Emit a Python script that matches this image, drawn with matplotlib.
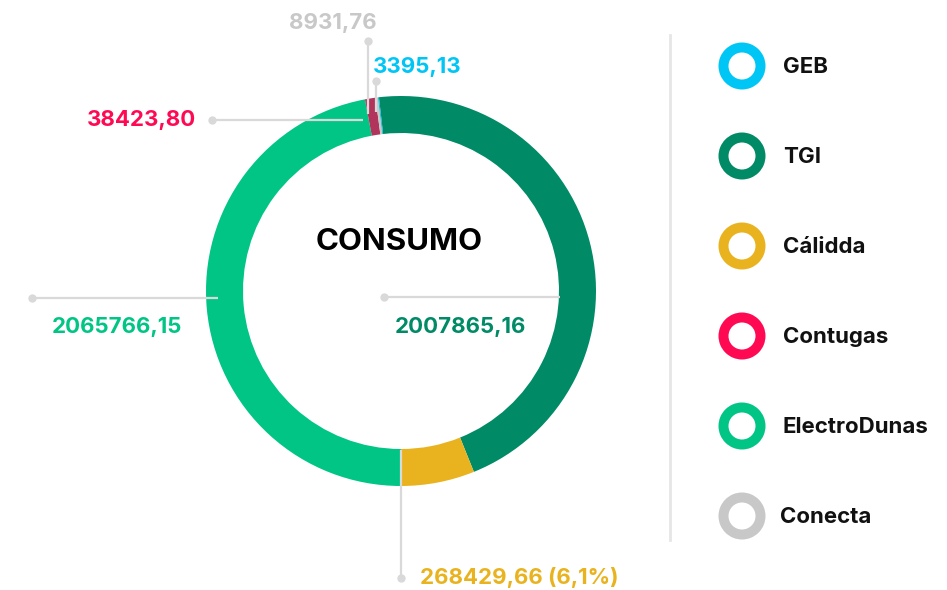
import matplotlib.pyplot as plt
from matplotlib.patches import Wedge

# donut data (clockwise order from the top)
names = ["TGI", "Cálidda", "ElectroDunas", "Contugas", "Conecta", "GEB"]
values = [2007865.16, 268429.66, 2065766.15, 38423.80, 8931.76, 3395.13]
ring_colors = ["#008a66", "#e9b31f", "#00c585", "#b0345c", "#c8c8c8", "#00b8d9"]

# legend
legend_names = ["GEB", "TGI", "Cálidda", "Contugas", "ElectroDunas", "Conecta"]
legend_colors = ["#00c6f5", "#008a66", "#e9b31f", "#ff0a52", "#00c585", "#c8c8c8"]

label_texts = ["8931,76", "3395,13", "38423,80", "2065766,15", "2007865,16", "268429,66 (6,1%)"]
label_colors = ["#c8c8c8", "#00c6f5", "#ff0a52", "#00c585", "#008a66", "#e9b31f"]

H = 590
FONT = ["Inter", "DejaVu Sans"]
LINE = "#d9d9d9"


def Y(y):
    return H - y


def main():
    fig = plt.figure(figsize=(9.47, 5.90), dpi=100)
    ax = fig.add_axes([0, 0, 1, 1])

    ax.pie(values, colors=ring_colors, startangle=96.5, counterclock=False,
           center=(401, Y(291)), radius=195,
           wedgeprops=dict(width=37, edgecolor="none"))

    ax.text(399, Y(242), "CONSUMO", ha="center", va="center", fontsize=22.5,
            fontweight="bold", family=FONT, color="#000000")

    # leader lines (x0,y0 is the dot end)
    leaders = [((368, 41), (368, 114)),
               ((376, 81), (376, 112)),
               ((212, 120), (363, 120)),
               ((32, 298), (218, 298)),
               ((384, 297), (560, 297)),
               ((401, 578), (401, 450))]
    for (x0, y0), (x1, y1) in leaders:
        ax.plot([x0, x1], [Y(y0), Y(y1)], color=LINE, lw=1.6, solid_capstyle="butt", zorder=3)
        ax.plot([x0], [Y(y0)], "o", color=LINE, ms=6, mec="none", zorder=3)

    # label positions: (x, y, ha)
    spots = [(333, 23, "center"), (373, 67, "left"), (196, 120, "right"),
             (52, 327, "left"), (395, 327, "left"), (420, 577, "left")]
    for (x, y, ha), t, c in zip(spots, label_texts, label_colors):
        ax.text(x, Y(y), t, ha=ha, va="center", fontsize=16, fontweight="bold",
                family=FONT, color=c)

    # separator
    ax.plot([670, 670], [Y(35), Y(540)], color="#e6e6e6", lw=2)

    for i, (n, c) in enumerate(zip(legend_names, legend_colors)):
        cy = 66 + i * 90
        ax.add_patch(Wedge((742, Y(cy)), 23.5, 0, 360, width=10, color=c, ec="none"))
        tx = 783 if n != "Conecta" else 780
        ax.text(tx, Y(cy) - 1, n, ha="left", va="center", fontsize=16,
                fontweight="bold", family=FONT, color="#111111")

    ax.set_xlim(0, 947)
    ax.set_ylim(0, H)
    ax.set_aspect("auto")
    ax.axis("off")
    fig.savefig("out.png", dpi=100)


if __name__ == "__main__":
    main()
